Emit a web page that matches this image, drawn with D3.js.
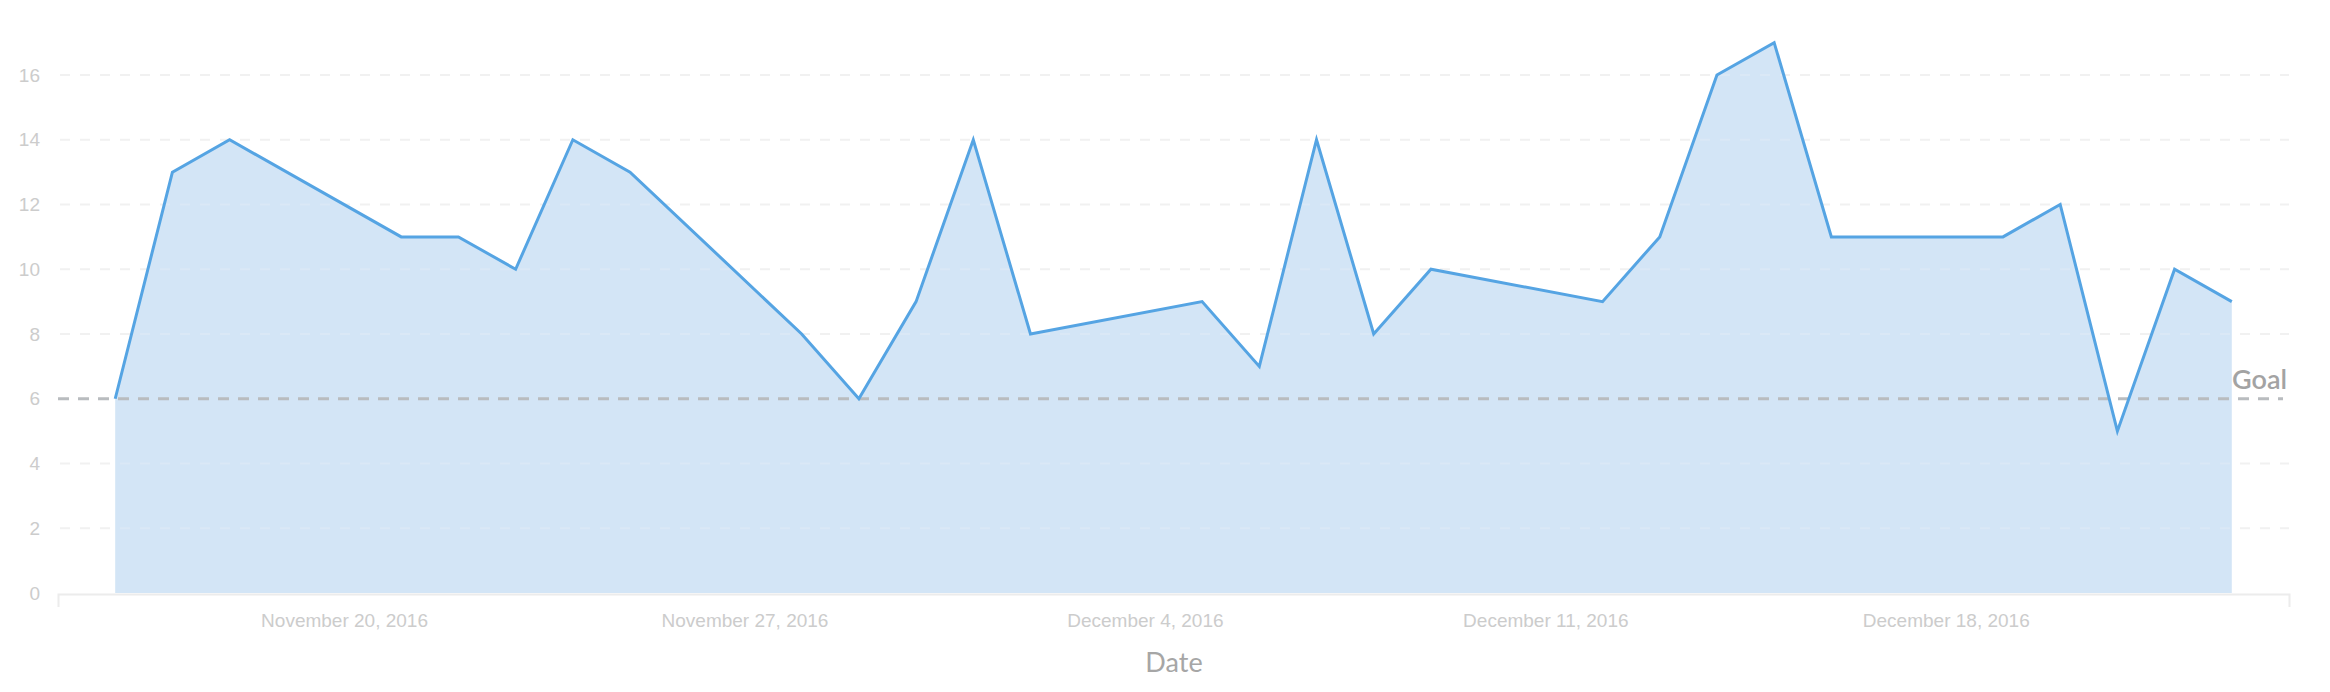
<!DOCTYPE html>
<html>
<head>
<meta charset="utf-8">
<script src="https://cdn.jsdelivr.net/npm/d3@7"></script>
<style>
    body { margin: 0; background: #fff; }
    svg { display: block; }
</style>
</head>
<body>
<script>
//data
var dates = ["2016-11-16", "2016-11-17", "2016-11-18", "2016-11-21", "2016-11-22", "2016-11-23",
             "2016-11-24", "2016-11-25", "2016-11-28", "2016-11-29", "2016-11-30", "2016-12-01",
             "2016-12-02", "2016-12-05", "2016-12-06", "2016-12-07", "2016-12-08", "2016-12-09",
             "2016-12-12", "2016-12-13", "2016-12-14", "2016-12-15", "2016-12-16", "2016-12-19",
             "2016-12-20", "2016-12-21", "2016-12-22", "2016-12-23"];
var values = [6, 13, 14, 11, 11, 10,
              14, 13, 8, 6, 9, 14,
              8, 9, 7, 14, 8, 10,
              9, 11, 16, 17, 11, 11,
              12, 5, 10, 9];
var goal = 6;
var yTicks = [0, 2, 4, 6, 8, 10, 12, 14, 16];
var xTickDates = ["2016-11-20", "2016-11-27", "2016-12-04", "2016-12-11", "2016-12-18"];
var xDomain = ["2016-11-15", "2016-12-24"];

//sizes (plot_ prefix, "top" is taken by window.top)
var width = 2330;
var height = 692;
var plot_left = 58, plot_right = 2289, plot_top = 75, plot_bottom = 593;

//colours
var line_colour = "#55a4e3";
var area_colour = "#d3e5f6";
var grid_colour = "#f1f1f1";
var goal_colour = "#b9bcbf";
var tick_colour = "#cccccc";

var parse = d3.timeParse("%Y-%m-%d");
var data = dates.map(function (d, i) { return {date: parse(d), value: values[i]}; });

var canvas = d3.select("body").append("svg")
    .attr("width", width)
    .attr("height", height);

var x = d3.scaleTime()
    .domain(xDomain.map(parse))
    .range([plot_left, plot_right]);

var y = d3.scaleLinear()
    .domain([0, 16])
    .range([plot_bottom, plot_top]);

var gridTicks = yTicks.filter(function (d) { return d > 0 && d != goal; });

//dashed grid lines
canvas.append("g").selectAll("line")
    .data(gridTicks)
    .enter()
    .append("line")
    .attr("x1", plot_left + 2)
    .attr("x2", plot_right)
    .attr("y1", function (d) { return y(d); })
    .attr("y2", function (d) { return y(d); })
    .attr("stroke", grid_colour)
    .attr("stroke-width", 2)
    .attr("stroke-dasharray", "10,10");

//area + line
var area = d3.area()
    .x(function (d) { return x(d.date); })
    .y0(y(0))
    .y1(function (d) { return y(d.value); });

var line = d3.line()
    .x(function (d) { return x(d.date); })
    .y(function (d) { return y(d.value); });

canvas.append("path")
    .datum(data)
    .attr("d", area)
    .attr("fill", area_colour);

//grid lines show faintly on top of the fill too
canvas.append("clipPath")
    .attr("id", "areaClip")
    .append("path")
    .datum(data)
    .attr("d", area);

canvas.append("g")
    .attr("clip-path", "url(#areaClip)")
    .selectAll("line")
    .data(gridTicks)
    .enter()
    .append("line")
    .attr("x1", plot_left + 2)
    .attr("x2", plot_right)
    .attr("y1", function (d) { return y(d); })
    .attr("y2", function (d) { return y(d); })
    .attr("stroke", "#dae8f6")
    .attr("stroke-width", 2)
    .attr("stroke-dasharray", "10,10");

//goal line
canvas.append("line")
    .attr("x1", plot_left)
    .attr("x2", plot_right - 6)
    .attr("y1", y(goal))
    .attr("y2", y(goal))
    .attr("stroke", goal_colour)
    .attr("stroke-width", 3)
    .attr("stroke-dasharray", "11,9");

canvas.append("text")
    .attr("x", plot_right - 2)
    .attr("y", y(goal) - 10)
    .attr("text-anchor", "end")
    .attr("font-family", "Lato, sans-serif")
    .attr("font-weight", 600)
    .attr("font-size", 27)
    .attr("fill", "#a3a3a3")
    .text("Goal");

canvas.append("path")
    .datum(data)
    .attr("d", line)
    .attr("fill", "none")
    .attr("stroke", line_colour)
    .attr("stroke-width", 3)
    .attr("stroke-linejoin", "miter");

//x axis
var xAxis = canvas.append("g")
    .attr("transform", "translate(0," + (plot_bottom + 1) + ")")
    .call(d3.axisBottom(x)
        .tickValues(xTickDates.map(parse))
        .tickSize(0)
        .tickSizeOuter(13)
        .tickPadding(20)
        .tickFormat(d3.timeFormat("%B %-d, %Y")));

xAxis.select(".domain")
    .attr("stroke", "#ececec")
    .attr("stroke-width", 2);

xAxis.selectAll("text")
    .attr("font-family", "'Liberation Sans', Arial, sans-serif")
    .attr("font-size", 19)
    .attr("fill", tick_colour);

//y axis labels
var yAxis = canvas.append("g")
    .attr("transform", "translate(" + (plot_left - 18) + ",0)")
    .call(d3.axisLeft(y).tickValues(yTicks).tickSize(0).tickPadding(0));

yAxis.select(".domain").remove();

yAxis.selectAll("text")
    .attr("font-family", "'Liberation Sans', Arial, sans-serif")
    .attr("font-size", 19)
    .attr("fill", tick_colour);

//axis title
canvas.append("text")
    .attr("x", 1174)
    .attr("y", 672)
    .attr("text-anchor", "middle")
    .attr("font-family", "Lato, sans-serif")
    .attr("font-size", 27)
    .attr("fill", "#a6a6a6")
    .text("Date");
</script>
</body>
</html>
